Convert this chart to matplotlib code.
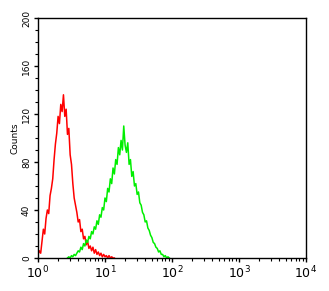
import numpy as np
import matplotlib.pyplot as plt
from matplotlib.ticker import MultipleLocator, LogLocator, NullFormatter

# log10 of channel value and counts
red_log = [0.00, 0.02, 0.04, 0.06, 0.08, 0.10, 0.12, 0.14, 0.16, 0.18,
           0.20, 0.22, 0.24, 0.26, 0.28, 0.30, 0.32, 0.34, 0.36, 0.38,
           0.40, 0.42, 0.44, 0.46, 0.48, 0.50, 0.52, 0.54, 0.56, 0.58,
           0.60, 0.62, 0.64, 0.66, 0.68, 0.70, 0.72, 0.74, 0.76, 0.78,
           0.80, 0.82, 0.84, 0.86, 0.88, 0.90, 0.92, 0.94, 0.96, 0.98,
           1.00, 1.02, 1.04, 1.06, 1.08, 1.10, 1.12, 1.14]
red_counts = [3, 6, 4, 14, 24, 20, 33, 40, 37, 52,
              58, 66, 82, 95, 104, 118, 112, 128, 122, 136,
              118, 124, 103, 108, 86, 78, 62, 50, 44, 38,
              30, 32, 22, 24, 16, 18, 11, 14, 8, 10,
              6, 9, 4, 7, 3, 5, 2, 4, 1, 3,
              1, 2, 0, 2, 0, 1, 0, 0]

green_log = [0.44, 0.46, 0.48, 0.50, 0.52, 0.54, 0.56, 0.58, 0.60, 0.62,
             0.64, 0.66, 0.68, 0.70, 0.72, 0.74, 0.76, 0.78, 0.80, 0.82,
             0.84, 0.86, 0.88, 0.90, 0.92, 0.94, 0.96, 0.98, 1.00, 1.02,
             1.04, 1.06, 1.08, 1.10, 1.12, 1.14, 1.16, 1.18, 1.20, 1.22,
             1.24, 1.26, 1.28, 1.30, 1.32, 1.34, 1.36, 1.38, 1.40, 1.42,
             1.44, 1.46, 1.48, 1.50, 1.52, 1.54, 1.56, 1.58, 1.60, 1.62,
             1.64, 1.66, 1.68, 1.70, 1.72, 1.74, 1.76, 1.78, 1.80, 1.82,
             1.84, 1.86, 1.88, 1.90, 1.92, 1.94, 1.96]
green_counts = [0, 1, 0, 2, 1, 3, 2, 4, 6, 5,
                9, 7, 12, 10, 15, 13, 18, 16, 22, 20,
                26, 24, 31, 28, 36, 34, 42, 40, 50, 47,
                58, 55, 66, 62, 75, 70, 82, 78, 92, 86,
                98, 90, 110, 94, 88, 96, 78, 82, 68, 72,
                60, 62, 53, 55, 46, 44, 38, 36, 30, 31,
                25, 23, 19, 17, 13, 12, 9, 8, 5, 6,
                3, 3, 1, 2, 0, 1, 0]

x_ticks = [1, 10, 100, 1000, 10000]
x_labels = ['$10^0$', '$10^1$', '$10^2$', '$10^3$', '$10^4$']
y_ticks = [0, 40, 80, 120, 160, 200]

fig = plt.figure(figsize=(3.29, 2.91), dpi=100)
ax = fig.add_axes([0.1155, 0.1134, 0.8145, 0.8248])

ax.plot(10 ** np.array(red_log), red_counts, color='#ff0000', lw=1.1)
ax.plot(10 ** np.array(green_log), green_counts, color='#00ee00', lw=1.1)

ax.set_xscale('log')
ax.set_xlim(1, 10000)
ax.set_ylim(0, 200)
ax.set_xticks(x_ticks)
ax.set_xticklabels(x_labels, fontsize=9)
ax.xaxis.set_minor_locator(LogLocator(base=10, subs=np.arange(2, 10)))
ax.xaxis.set_minor_formatter(NullFormatter())
ax.set_yticks(y_ticks)
ax.set_yticklabels([str(v) for v in y_ticks], fontsize=6.5, rotation=90, va='center')
ax.yaxis.set_minor_locator(MultipleLocator(10))
ax.tick_params(which='major', length=3, width=1, pad=2, color='black')
ax.tick_params(which='minor', length=2, width=0.8)
ax.set_ylabel('Counts', fontsize=6.5, labelpad=2)
for s in ax.spines.values():
    s.set_linewidth(1.0)

fig.savefig('out.png', dpi=100)
